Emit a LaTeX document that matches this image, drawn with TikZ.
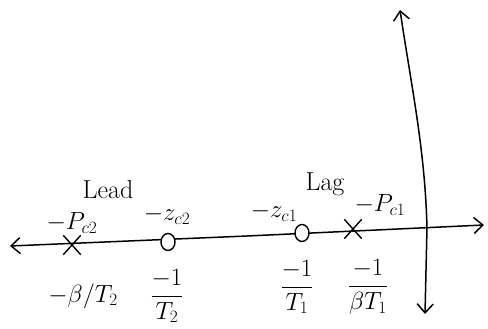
\documentclass[tikz,border=0pt]{standalone}
\usetikzlibrary{arrows.meta,shapes.misc,shapes.geometric}
\begin{document}
\begin{tikzpicture}[x=1pt,y=-1pt,
  axis/.style={line width=1.5pt,-{Straight Barb[length=9pt,width=16pt,line width=1.5pt]}},
  pole/.style={draw,cross out,line width=1.4pt,minimum width=16pt,minimum height=18pt,inner sep=0pt},
  zero/.style={draw,ellipse,line width=1.4pt,minimum width=14pt,minimum height=17pt,inner sep=0pt,fill=white},
  lbl/.style={font=\fontsize{26}{30}\selectfont,inner sep=1pt},
  frac/.style={font=\fontsize{23}{27}\selectfont,inner sep=1pt}]
\useasboundingbox (0,0) rectangle (488,329);
% axes
\coordinate (hl) at (10,246);
\coordinate (hm) at (247,236);
\coordinate (hr) at (484,225);
\coordinate (vt) at (400,10);
\coordinate (vc) at (427,228);
\coordinate (vb) at (425,314);
\draw[axis] (hm) -- (hl);
\draw[axis] (hm) -- (hr);
\draw[line width=1.5pt,-{Straight Barb[length=9pt,width=16pt,line width=1.5pt]}] (vc) .. controls (425,150) and (412,90) .. (vt);
\draw[axis] (vc) -- (vb);
% poles and zeros
\node[pole] (p2) at (72,245) {};
\node[zero] (z2) at (168,242) {};
\node[zero] (z1) at (302,233) {};
\node[pole] (p1) at (353,229) {};
% labels
\node[lbl] (lead) at (108,190) {Lead};
\node[lbl] (lag) at (325,184) {Lag};
\node[lbl] (lp2) at (72,223) {$-P_{c2}$};
\node[lbl] (lz2) at (167,215) {$-z_{c2}$};
\node[lbl] (lz1) at (274,212) {$-z_{c1}$};
\node[lbl] (lp1) at (380,205) {$-P_{c1}$};
\node[lbl] (bp2) at (83,296) {$-\beta/T_2$};
\node[frac] (bz2) at (167,296) {$\displaystyle\frac{-1}{T_2}$};
\node[frac] (bz1) at (297,287) {$\displaystyle\frac{-1}{T_1}$};
\node[frac] (bp1) at (368,287) {$\displaystyle\frac{-1}{\beta T_1}$};
\end{tikzpicture}
\end{document}
